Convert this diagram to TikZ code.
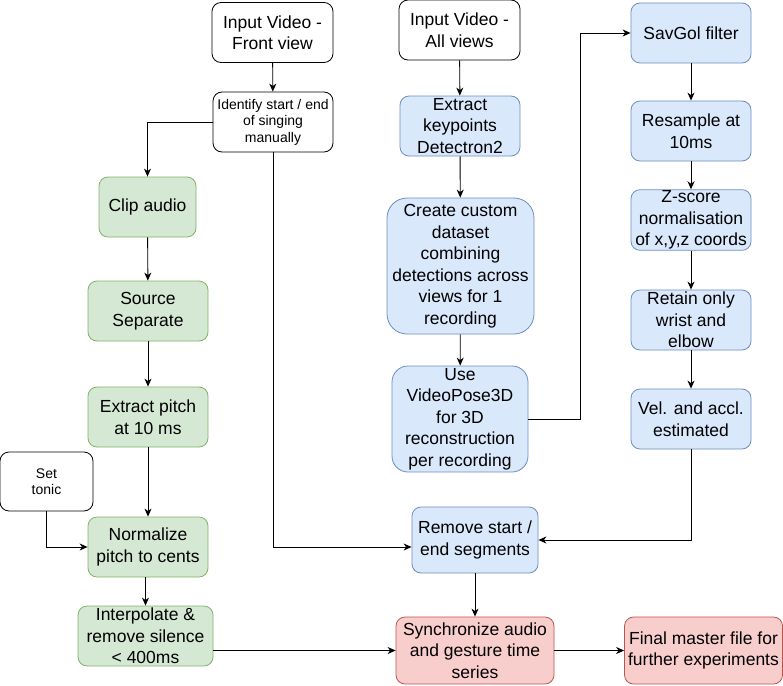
\documentclass[tikz,border=0pt]{standalone}
\usepackage{fontspec}
\setmainfont{Liberation Sans}
\usetikzlibrary{arrows.meta,positioning}

\definecolor{audiofill}{HTML}{D5E8D4}
\definecolor{audiodraw}{HTML}{82B366}
\definecolor{posefill}{HTML}{DAE8FC}
\definecolor{posedraw}{HTML}{6C8EBF}
\definecolor{syncfill}{HTML}{F8CECC}
\definecolor{syncdraw}{HTML}{B85450}

\begin{document}
\begin{tikzpicture}[x=1pt,y=-1pt,
	box/.style={draw, rounded corners=9pt, align=center, minimum width=120pt, minimum height=60pt,
		inner sep=1pt, line width=0.8pt, font=\fontsize{17.5}{21.5}\selectfont},
	small/.style={font=\fontsize{14}{16.5}\selectfont},
	plain/.style={box, draw=black, fill=white},
	audio/.style={box, draw=audiodraw, fill=audiofill},
	pose/.style={box, draw=posedraw, fill=posefill},
	sync/.style={box, draw=syncdraw, fill=syncfill},
	flow/.style={line width=0.9pt, -{Stealth[length=8pt,width=7pt,inset=2.5pt]}}]
		\useasboundingbox (0,0) rectangle (783,685);
		% audio branch
		\node[plain, minimum width=121pt] (vidfront) at (272.5,32.5) {Input Video -\\Front view};
		\node[plain, small] (ident) at (273,122) {Identify start / end\\of singing\\manually};
		\node[audio, minimum width=97pt] (clip) at (147.5,207) {Clip audio};
		\node[audio] (sep) at (148,311) {Source\\Separate};
		\node[audio] (pitch) at (148,417) {Extract pitch\\at 10 ms};
		\node[plain, small, minimum width=93pt, minimum height=59pt] (tonic) at (46.5,481.5) {Set\\tonic};
		\node[audio] (norm) at (148,547) {Normalize\\pitch to cents};
		\node[audio, minimum width=135pt] (interp) at (145.5,636) {Interpolate \&\\remove silence\\< 400ms};
		% pose branch
		\node[plain, minimum width=121pt] (vidall) at (459.5,30) {Input Video -\\All views};
		\node[pose] (keypts) at (460,126) {Extract\\keypoints\\Detectron2};
		\node[pose, minimum width=147pt, minimum height=136pt, rounded corners=20pt] (dataset) at (460.5,266)
			{Create custom\\dataset\\combining\\detections across\\views for 1\\recording};
		\node[pose, minimum width=136pt, minimum height=106pt, rounded corners=16pt] (pose) at (460,419)
			{Use\\VideoPose3D\\for 3D\\reconstruction\\per recording};
		\node[pose] (savgol) at (691,33) {SavGol filter};
		\node[pose] (resample) at (691,131) {Resample at\\10ms};
		\node[pose] (zscore) at (691,220) {Z-score\\normalisation\\of x,y,z coords};
		\node[pose] (retain) at (691,320) {Retain only\\wrist and\\elbow};
		\node[pose] (vel) at (691,419) {Vel. and accl.\\estimated};
		% merge
		\node[pose, minimum width=126pt, minimum height=66pt] (trim) at (475,540) {Remove start /\\end segments};
		\node[sync, minimum width=158pt, minimum height=67pt] (sync) at (475,650.5) {Synchronize audio\\and gesture time\\series};
		\node[sync, minimum width=158pt, minimum height=67pt] (master) at (703.5,650.5) {Final master file for\\further experiments};

		\draw[flow] (vidfront) -- (ident);
		\draw[flow] (ident.west) -| (clip.north);
		\draw[flow] (ident.south) |- ([yshift=-7pt]trim.west);
		\draw[flow] (clip) -- (sep);
		\draw[flow] (sep) -- (pitch);
		\draw[flow] (pitch) -- (norm);
		\draw[flow] (norm.south -| interp.north) -- (interp.north);
		\draw[flow] (tonic.south) |- (norm.west);
		\draw[flow] (interp.east |- sync.west) -- (sync.west);
		\draw[flow] (vidall) -- (keypts);
		\draw[flow] (keypts) -- (dataset);
		\draw[flow] (dataset) -- (pose);
		\draw[flow] (pose.east) -- ++(52,0) |- (savgol.west);
		\draw[flow] (savgol) -- (resample);
		\draw[flow] (resample) -- (zscore);
		\draw[flow] (zscore) -- (retain);
		\draw[flow] (retain) -- (vel);
		\draw[flow] (vel.south) |- (trim.east);
		\draw[flow] (trim) -- (sync);
		\draw[flow] (sync) -- (master);
\end{tikzpicture}
\end{document}
